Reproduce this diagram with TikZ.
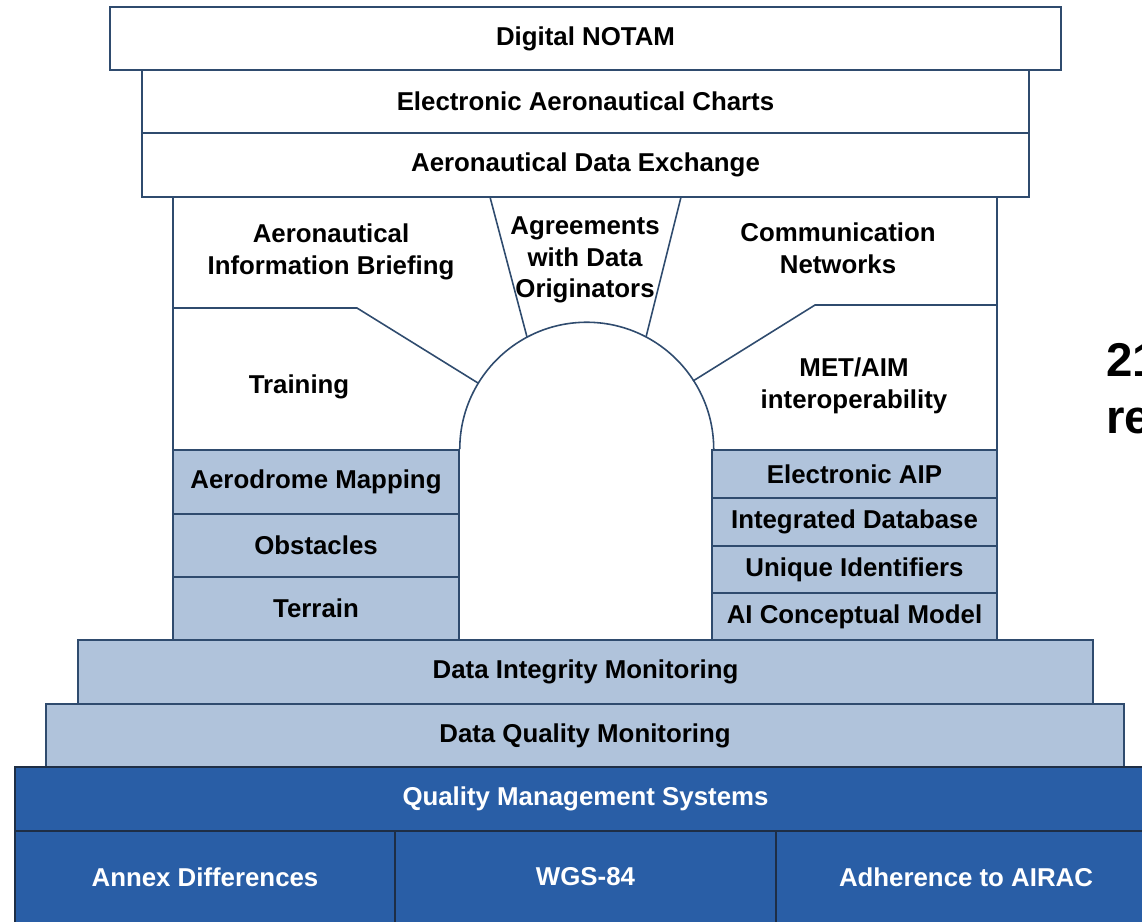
\documentclass[tikz,border=0pt]{standalone}
\usepackage{fontspec}
\setmainfont{Liberation Sans}
\definecolor{edge}{HTML}{2F4B6E}
\definecolor{darkedge}{HTML}{1E2E45}
\definecolor{lightblue}{HTML}{B0C3DB}
\definecolor{darkblue}{HTML}{295EA6}
\tikzset{
  layer/.style={draw=edge, line width=0.9pt, fill=white, inner sep=0pt,
    font=\bfseries\fontsize{14.7}{18}\selectfont, align=center},
  lightcell/.style={layer, fill=lightblue},
  darkcell/.style={layer, draw=darkedge, fill=darkblue, text=white},
  label/.style={inner sep=0pt, font=\bfseries\fontsize{14.7}{18}\selectfont, align=center},
  partition/.style={draw=edge, line width=0.9pt},
}
\begin{document}
\begin{tikzpicture}[x=0.02cm,y=-0.02cm]
    \useasboundingbox (0,0) rectangle (1142,921);
    % middle part with the arch
    \draw [partition, fill=white] (173,197) rectangle (997,640);
    \coordinate (bl) at (173,308);
    \coordinate (bk) at (357,308);
    \coordinate (be) at (478,383);
    \coordinate (al) at (490,197);
    \coordinate (ae) at (527,337);
    \coordinate (ar) at (681,197);
    \coordinate (af) at (646,337);
    \coordinate (cr) at (997,305);
    \coordinate (ck) at (815,305);
    \coordinate (ce) at (693,381);
    \draw [partition] (bl) -- (bk) -- (be);
    \draw [partition] (al) -- (ae);
    \draw [partition] (ar) -- (af);
    \draw [partition] (cr) -- (ck) -- (ce);
    \node [label] (briefing) at (331,252) {Aeronautical\\Information Briefing};
    \node [label] (agreements) at (585,260) {Agreements\\with Data\\Originators};
    \node [label] (comm) at (838,248) {Communication\\Networks};
    \node [label] (training) at (299,387) {Training};
    \node [label] (metaim) at (854,386) {MET/AIM\\interoperability};
    % top layers
    \node [layer, minimum width=19.02cm, minimum height=1.26cm] (notam) at (585.5,38.5) {Digital NOTAM};
    \node [layer, minimum width=17.74cm, minimum height=1.26cm] (charts) at (585.5,101.5) {Electronic Aeronautical Charts};
    \node [layer, minimum width=17.74cm, minimum height=1.28cm] (exchange) at (585.5,165) {Aeronautical Data Exchange};
    % columns
    \node [lightcell, minimum width=5.72cm, minimum height=1.28cm] (mapping) at (316,482) {Aerodrome Mapping};
    \node [lightcell, minimum width=5.72cm, minimum height=1.26cm] (obstacles) at (316,545.5) {Obstacles};
    \node [lightcell, minimum width=5.72cm, minimum height=1.26cm] (terrain) at (316,608.5) {Terrain};
    \node [lightcell, minimum width=5.7cm, minimum height=0.95cm] (eaip) at (854.5,474) {Electronic AIP};
    \node [lightcell, minimum width=5.7cm, minimum height=0.95cm] (database) at (854.5,522) {Integrated Database};
    \node [lightcell, minimum width=5.7cm, minimum height=0.95cm] (identifiers) at (854.5,569.5) {Unique Identifiers};
    \node [lightcell, minimum width=5.7cm, minimum height=0.94cm] (model) at (854.5,616.5) {AI Conceptual Model};
    \draw [partition] (mapping.north east) arc [start angle=180, end angle=0, radius=2.54cm];
    % foundation
    \node [lightcell, minimum width=20.3cm, minimum height=1.28cm] (integrity) at (585.5,672) {Data Integrity Monitoring};
    \node [lightcell, minimum width=21.56cm, minimum height=1.26cm] (quality) at (585,735.5) {Data Quality Monitoring};
    \node [darkcell, minimum width=22.82cm, minimum height=1.28cm] (qms) at (585.5,799) {Quality Management Systems};
    \node [darkcell, minimum width=7.6cm, minimum height=1.84cm] (annex) at (205,877) {Annex Differences};
    \node [darkcell, minimum width=7.62cm, minimum height=1.84cm] (wgs) at (585.5,877) {WGS-84};
    \node [darkcell, minimum width=7.6cm, minimum height=1.84cm] (airac) at (966,877) {Adherence to AIRAC};
    % side text
    \node [anchor=base west, inner sep=0pt, font=\bfseries\fontsize{27}{32}\selectfont] (century) at (1106,376) {21};
    \node [anchor=base west, inner sep=0pt, font=\bfseries\fontsize{27}{32}\selectfont] (require) at (1106,433) {re};
\end{tikzpicture}
\end{document}
